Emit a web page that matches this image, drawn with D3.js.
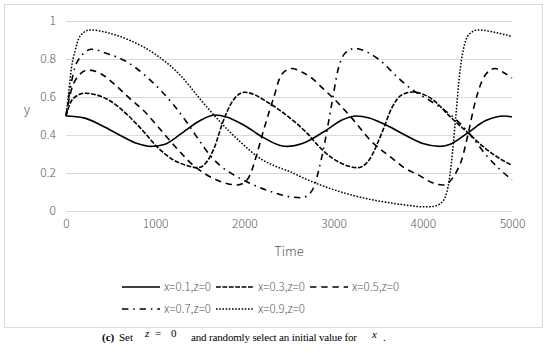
<!DOCTYPE html>
<html><head><meta charset="utf-8">
<script src="https://cdn.jsdelivr.net/npm/d3@7"></script>
<style>body{margin:0;background:#fff}svg{display:block}</style>
</head><body><svg id="c" width="550" height="364"></svg>
<script>
// ---- data ----
const seriesNames = ["x=0.1,z=0","x=0.3,z=0","x=0.5,z=0","x=0.7,z=0","x=0.9,z=0"];
const xTicks = [0,1000,2000,3000,4000,5000];
const yTicks = [0,0.2,0.4,0.6,0.8,1];
const yTickLabels = ["0","0.2","0.4","0.6","0.8","1"];
const xTitle = "Time";
const yTitle = "y";

const t1 = [0,200,400,600,800,950,1100,1300,1500,1670,1800,2000,2200,2400,2480,2650,2900,3100,3250,3400,3600,3800,4000,4190,4300,4500,4700,4920,5000];
const v1 = [0.50,0.49,0.45,0.40,0.355,0.34,0.35,0.41,0.475,0.505,0.495,0.45,0.39,0.345,0.34,0.355,0.42,0.48,0.50,0.49,0.45,0.40,0.355,0.34,0.35,0.41,0.475,0.50,0.495];

const t2 = [0,50,100,213,350,493,680,867,1016,1200,1350,1480,1580,1660,1760,1870,2000,2100,2250,2455,2680,2900,3090,3277,3400,3540,3650,3760,3890,4100,4320,4510,4700,4850,5000];
const v2 = [0.50,0.57,0.60,0.62,0.61,0.58,0.51,0.42,0.34,0.27,0.24,0.228,0.26,0.33,0.47,0.58,0.625,0.615,0.575,0.51,0.42,0.31,0.25,0.228,0.27,0.41,0.54,0.61,0.626,0.59,0.49,0.41,0.33,0.28,0.24];

const t3 = [0,50,120,250,400,560,720,867,1020,1166,1300,1427,1560,1689,1800,1913,2000,2063,2140,2212,2270,2324,2418,2530,2650,2754,2880,3016,3202,3427,3651,3800,3950,4100,4220,4300,4370,4436,4510,4580,4660,4750,4810,4900,5000];
const v3 = [0.50,0.62,0.70,0.742,0.72,0.66,0.59,0.53,0.45,0.37,0.30,0.24,0.195,0.163,0.145,0.137,0.15,0.19,0.30,0.42,0.51,0.59,0.72,0.75,0.73,0.70,0.645,0.585,0.49,0.365,0.28,0.225,0.19,0.15,0.137,0.155,0.20,0.27,0.41,0.56,0.68,0.74,0.75,0.73,0.70];

const t4 = [0,50,120,288,450,680,942,1203,1350,1502,1620,1726,1880,2025,2250,2511,2642,2735,2790,2829,2903,2978,3053,3128,3240,3380,3501,3726,3857,4100,4327,4518,4700,4850,5000];
const v4 = [0.50,0.65,0.78,0.851,0.83,0.786,0.69,0.56,0.47,0.365,0.29,0.24,0.19,0.154,0.11,0.075,0.07,0.093,0.14,0.207,0.365,0.56,0.75,0.83,0.856,0.835,0.80,0.70,0.647,0.575,0.50,0.41,0.30,0.225,0.165];

const t5 = [0,30,60,100,157,269,493,755,1016,1278,1502,1726,1951,2175,2362,2511,2679,2903,3202,3501,3800,4000,4100,4200,4270,4320,4370,4420,4470,4530,4620,4810,5000];
const v5 = [0.50,0.62,0.75,0.84,0.92,0.953,0.935,0.89,0.82,0.716,0.59,0.47,0.365,0.277,0.233,0.207,0.17,0.128,0.084,0.053,0.032,0.022,0.023,0.04,0.10,0.25,0.50,0.75,0.88,0.935,0.953,0.94,0.918];

const seriesT = [t1,t2,t3,t4,t5];
const seriesV = [v1,v2,v3,v4,v5];

// ---- layout ----
const plot = {left:66, right:512, top:21, bottom:211};
const w = 1.6;
const dashes = ["none", `${3*w},${w}`, `${4*w},${3*w}`, `${4*w},${3*w},${w},${3*w}`, `${w},${w}`];
const axisFont = "'Noto Sans CJK SC','Noto Sans',sans-serif";
const serif = "'Liberation Serif','DejaVu Serif',serif";
const grey = "#595959";

const svg = d3.select("#c");
svg.append("rect").attr("x",4.5).attr("y",4.5).attr("width",538).attr("height",323)
  .attr("fill","#fff").attr("stroke","#d9d9d9").attr("stroke-width",1);

const x = d3.scaleLinear().domain([0,5000]).range([plot.left,plot.right]);
const y = d3.scaleLinear().domain([0,1]).range([plot.bottom,plot.top]);

// gridlines
svg.append("g").selectAll("line").data(yTicks).join("line")
  .attr("x1",plot.left).attr("x2",plot.right)
  .attr("y1",d=>Math.round(y(d))+0.5).attr("y2",d=>Math.round(y(d))+0.5)
  .attr("stroke","#d9d9d9").attr("stroke-width",1);

// y axis labels
const yAxis = d3.axisLeft(y).tickValues(yTicks).tickFormat((d,i)=>yTickLabels[i]).tickSize(0).tickPadding(10);
const gy = svg.append("g").attr("transform",`translate(${plot.left},0)`).call(yAxis);
gy.select(".domain").remove();
gy.selectAll("text").attr("fill",grey).style("font-family",axisFont).style("font-size","12px").style("font-weight","300");

// x axis labels
const xAxis = d3.axisBottom(x).tickValues(xTicks).tickFormat(d3.format("d")).tickSize(0).tickPadding(8);
const gx = svg.append("g").attr("transform",`translate(0,${plot.bottom})`).call(xAxis);
gx.select(".domain").remove();
gx.selectAll("text").attr("fill",grey).style("font-family",axisFont).style("font-size","12px").style("font-weight","300");

// titles
svg.append("text").attr("x",(plot.left+plot.right)/2).attr("y",256).attr("text-anchor","middle")
  .attr("fill",grey).style("font-family",axisFont).style("font-size","13px").style("font-weight","300").text(xTitle);
svg.append("text").attr("x",27).attr("y",114).attr("text-anchor","middle")
  .attr("fill",grey).style("font-family",axisFont).style("font-size","13px").style("font-weight","300").text(yTitle);

// lines
const line = d3.line().x(d=>x(d[0])).y(d=>y(d[1])).curve(d3.curveMonotoneX);
const gl = svg.append("g");
seriesT.forEach((ts,i)=>{
  const pts = ts.map((t,j)=>[t,seriesV[i][j]]);
  gl.append("path").datum(pts).attr("d",line).attr("fill","none")
    .attr("stroke","#000").attr("stroke-width", i===4 ? 1.5 : w)
    .attr("stroke-dasharray",dashes[i]);
});

// legend
const rows = [[0,1,2],[3,4]];
const rowY = [287,309];
rows.forEach((row,r)=>{
  let cx = 122;
  row.forEach(i=>{
    const g = svg.append("g");
    g.append("line").attr("x1",cx).attr("x2",cx+38).attr("y1",rowY[r]).attr("y2",rowY[r])
      .attr("stroke","#000").attr("stroke-width",i===4?1.5:w).attr("stroke-dasharray",dashes[i]);
    const tx = g.append("text").attr("x",cx+42).attr("y",rowY[r]+4.3)
      .attr("fill",grey).style("font-family",axisFont).style("font-size","11.5px").style("font-weight","300")
      .text(seriesNames[i]);
    cx = cx + 42 + tx.node().getComputedTextLength() + 5;
  });
});

// caption
const fs = "11px";
function capText(xp, yp, txt, style, weight){
  return svg.append("text").attr("x",xp).attr("y",yp).style("font-family",serif).style("font-size",fs)
    .style("font-style",style||"normal").style("font-weight",weight||"normal").attr("fill","#000").text(txt);
}
capText(102,341,"(c)",null,"bold");
capText(119,341,"Set");
capText(145,337,"z","italic");
capText(155,337,"=");
capText(171,337,"0");
capText(191,341,"and randomly select an initial value for").attr("textLength",166).attr("lengthAdjust","spacing");
capText(372,337.5,"x","italic");
capText(383,341,".");
</script>
</body></html>
